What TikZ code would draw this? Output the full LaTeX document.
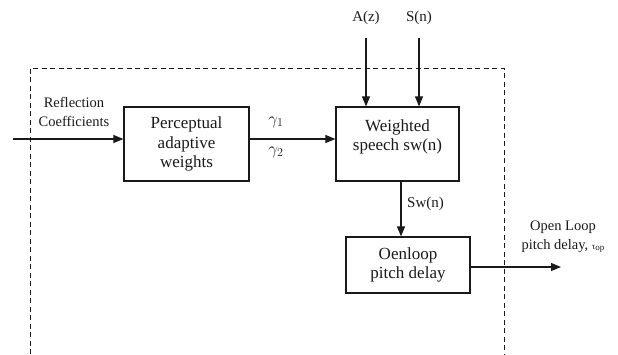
\documentclass[tikz,border=0pt]{standalone}
\usepackage{fontspec}
\setmainfont{Liberation Serif}
\usetikzlibrary{arrows.meta}
\definecolor{ink}{HTML}{1A1A1A}
\tikzset{
  blockbox/.style={draw=ink, line width=1.2pt, fill=white, align=center, inner sep=0pt,
    font=\fontsize{17}{19.5}\selectfont, text=ink},
  sig/.style={draw=ink, line width=1.1pt, -{Triangle[length=10pt,width=8pt]}},
  lbl/.style={text=ink, align=center, inner sep=0pt, font=\fontsize{15}{18}\selectfont},
  greek/.style={text=ink, inner sep=0pt, font=\fontsize{17}{18}\selectfont},
  smalllbl/.style={text=ink, align=center, inner sep=0pt, font=\fontsize{14.5}{19}\selectfont},
  boundary/.style={draw=ink, line width=1pt, dash pattern=on 5pt off 3.5pt}
}
\begin{document}
\begin{tikzpicture}[x=1pt, y=-1pt]
  \useasboundingbox (0,0) rectangle (618,354);

  % open dashed enclosure (no bottom edge)
  \draw[boundary] (30,354) -- (30,68) -- (504,68) -- (504,354);

  % processing blocks
  \node[blockbox, minimum width=125pt, minimum height=74pt] (pw) at (186.5,144)
    {Perceptual\\adaptive\\weights};
  \node[blockbox, minimum width=123pt, minimum height=74pt, text depth=18pt] (ws) at (397.5,144)
    {Weighted\\speech sw(n)};
  \node[blockbox, minimum width=124pt, minimum height=56pt] (ol) at (408,265)
    {Oenloop\\pitch delay};

  % input: reflection coefficients
  \coordinate (rin) at (13,139);
  \draw[sig] (rin) -- (rin -| pw.west);
  \node[smalllbl] (rc) at (74,112) {Reflection\\Coefficients};

  % weights to weighted speech
  \coordinate (gout) at (pw.east |- rin);
  \draw[sig] (gout) -- (gout -| ws.west);
  \node[greek] (g1) at (276,122) {$\gamma_1$};
  \node[greek] (g2) at (276,152) {$\gamma_2$};

  % external inputs A(z) and S(n)
  \node[lbl] (az) at (366,18) {A(z)};
  \node[lbl] (sn) at (419,18) {S(n)};
  \coordinate (azs) at (366,38);
  \coordinate (sns) at (419,38);
  \draw[sig] (azs) -- (azs |- ws.north);
  \draw[sig] (sns) -- (sns |- ws.north);

  % weighted speech to open-loop pitch search
  \coordinate (swt) at (401,0);
  \draw[sig] (swt |- ws.south) -- (swt |- ol.north);
  \node[lbl, anchor=west] (swl) at (407,204) {Sw(n)};

  % output: open-loop pitch delay
  \coordinate (oout) at (ol.east |- 0,267);
  \coordinate (oend) at (561,267);
  \draw[sig] (oout) -- (oend);
  \node[smalllbl] (oll) at (563,237)
    {Open Loop\\pitch delay, {\fontsize{9}{9}\selectfont τ\raisebox{-1pt}{op}}};
\end{tikzpicture}
\end{document}
